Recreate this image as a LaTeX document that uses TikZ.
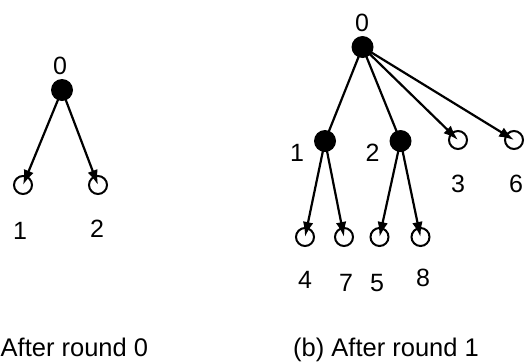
\documentclass[tikz,border=0pt]{standalone}
\usepackage{fontspec}
\setmainfont{Liberation Sans}
\usetikzlibrary{arrows.meta}
\pgfdeclarelayer{edges}
\pgfsetlayers{edges,main}
\begin{document}
\begin{tikzpicture}[x=1pt,y=-1pt,
  full/.style={circle,fill=black,minimum size=22pt,inner sep=0pt},
  hollow/.style={circle,draw=black,line width=2pt,minimum size=18pt,inner sep=0pt},
  lbl/.style={anchor=base,inner sep=0pt,font=\fontsize{25}{30}\selectfont},
  captxt/.style={anchor=base west,inner sep=0pt,font=\fontsize{25.5}{30}\selectfont},
  link/.style={line width=2.2pt,black},
  arr/.style={link,-{Latex[length=15pt,width=10.5pt]}}]
\useasboundingbox (0,0) rectangle (526,362);

% left tree: state after round 0
\node[full]   (a0) at (62,90) {};
\node[hollow] (a1) at (23,185) {};
\node[hollow] (a2) at (98,185) {};
\node[lbl] (la0) at (60,74) {0};
\node[lbl] (la1) at (20,239) {1};
\node[lbl] (la2) at (97,237) {2};

% right tree: state after round 1
\node[full]   (b0) at (362.5,47) {};
\node[full]   (b1) at (325,141) {};
\node[full]   (b2) at (400.5,141) {};
\node[hollow] (b3) at (458,140) {};
\node[hollow] (b6) at (514,140) {};
\node[hollow] (b4) at (305,237) {};
\node[hollow] (b7) at (344,237) {};
\node[hollow] (b5) at (379.5,237) {};
\node[hollow] (b8) at (420.5,237) {};
\node[lbl] (lb0) at (362,31) {0};
\node[lbl] (lb1) at (297,161) {1};
\node[lbl] (lb2) at (372.5,161) {2};
\node[lbl] (lb3) at (458,192) {3};
\node[lbl] (lb6) at (516,192) {6};
\node[lbl] (lb4) at (305,288) {4};
\node[lbl] (lb7) at (346,291) {7};
\node[lbl] (lb5) at (377,291) {5};
\node[lbl] (lb8) at (423,286) {8};

% connectors, kept beneath the filled circles
\begin{pgfonlayer}{edges}
\draw[arr] (a0.center) -- (a1.center);
\draw[arr] (a0.center) -- (a2.center);
\draw[link] (b0.center) -- (b1.center);
\draw[link] (b0.center) -- (b2.center);
\draw[arr] (b0.center) -- (b3.center);
\draw[arr] (b0.center) -- (b6.center);
\draw[arr] (b1.center) -- (b4.center);
\draw[arr] (b1.center) -- (b7.center);
\draw[arr] (b2.center) -- (b5.center);
\draw[arr] (b2.center) -- (b8.center);
\end{pgfonlayer}

% captions
\node[captxt] (capa) at (0.5,356) {After round 0};
\node[captxt] (capb) at (293,356) {(b) After round 1};
\end{tikzpicture}
\end{document}
